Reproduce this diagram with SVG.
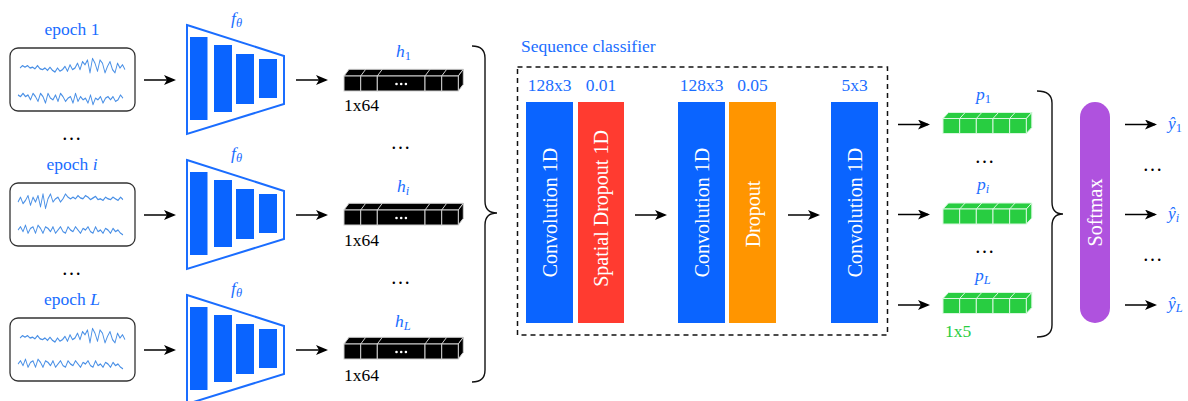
<svg xmlns="http://www.w3.org/2000/svg" width="1188" height="401" viewBox="0 0 1188 401">
<style>
.t{font-family:"Liberation Serif","Times New Roman",serif;font-size:17.5px}
.blue{fill:#1a6dff}
.blk{fill:#000}
.grn{fill:#28cd41}
.wt{fill:#fff;font-family:"Liberation Serif","Times New Roman",serif;font-size:20px}
.it{font-style:italic}
.dots{font-family:"Liberation Serif","Times New Roman",serif;font-size:20px;letter-spacing:1px}
.sig{fill:none;stroke:#4a90e6;stroke-width:0.9;stroke-linejoin:round;vector-effect:non-scaling-stroke}
.ebox{fill:#fff;stroke:#333;stroke-width:1.3}
.enc{fill:none;stroke:#1a6dff;stroke-width:2}
.bar{fill:#0a64ff}
.arr{stroke:#000;stroke-width:1.5;fill:none;marker-end:url(#ah)}
.brace{fill:none;stroke:#111;stroke-width:1.4}
.hc{fill:#000;stroke:#cfcfcf;stroke-width:1}
.pc{fill:#28cd41;stroke:#d8f7de;stroke-width:1}
</style>
<defs>
<marker id="ah" viewBox="0 0 12 10" refX="10" refY="5" markerWidth="12" markerHeight="10" markerUnits="userSpaceOnUse" orient="auto"><path d="M0,0 L12,5 L0,10 L3,5 z" fill="#000"/></marker>
<path id="T1" d="M0,0 l2.5,-1.5 2.5,1 2.5,-1 2.5,1.5 2.5,-0.5 2.5,1 2.5,-2 2.5,2 2.5,0.5 2.5,-1 2.5,1.5 2.5,-2 2.5,2 2.5,1 2.5,-2.5 2.5,2 2.5,-1 2.5,-2 2.5,3 2.5,-4 2.5,3 2.5,-1 2.5,-3 2.5,4 2.5,-5 2.5,2 2.5,-3 2.5,8 2.5,-9 2.5,3 2.5,5 2.5,-7 2.5,2 2.5,6 2.5,-4 2.5,-3 2.5,5 2.5,2 2.5,-6 2.5,3 2.5,-2 2.5,3"/>
<path id="T2" d="M0,0 l2.5,-2 2.5,3 2.5,-4 2.5,5 2.5,-3 2.5,-1 2.5,4 2.5,-5 2.5,2 2.5,3 2.5,-4 2.5,1 2.5,2 2.5,-3 2.5,4 2.5,-2 2.5,-2 2.5,3 2.5,1 2.5,-4 2.5,2 2.5,1 2.5,-3 2.5,2 2.5,2 2.5,-3 2.5,1 2.5,-2 2.5,3 2.5,1 2.5,-4 2.5,3 2.5,-1 2.5,2 2.5,-3 2.5,1 2.5,2 2.5,-3 2.5,2 2.5,-1 2.5,2 2.5,1"/>
<path id="T3" d="M0,0 l2.5,-3 2.5,4 2.5,-2 2.5,-3 2.5,6 2.5,-5 2.5,3 2.5,-4 2.5,7 2.5,-8 2.5,9 2.5,-6 2.5,-3 2.5,5 2.5,-2 2.5,-1 2.5,3 2.5,-2 2.5,-3 2.5,2 2.5,1 2.5,-1 2.5,1 2.5,-2 2.5,1.5 2.5,0.5 2.5,-2 2.5,1 2.5,1.5 2.5,-1 2.5,-1 2.5,2 2.5,-0.5 2.5,1 2.5,-2 2.5,1 2.5,0.5 2.5,-1.5 2.5,1 2.5,1 2.5,-2 2.5,1.5"/>
<path id="T4" d="M0,0 l2.5,1 2.5,-2 2.5,2 2.5,-1 2.5,3 2.5,-4 2.5,2 2.5,3 2.5,-5 2.5,2 2.5,4 2.5,-6 2.5,3 2.5,1 2.5,-3 2.5,4 2.5,-5 2.5,2 2.5,3 2.5,-2 2.5,-1 2.5,4 2.5,-6 2.5,5 2.5,-3 2.5,2 2.5,-1 2.5,3 2.5,-5 2.5,6 2.5,-4 2.5,1 2.5,-2 2.5,4 2.5,-3 2.5,-1 2.5,2 2.5,-2 2.5,3 2.5,-1 2.5,-3 2.5,2"/>
<g id="encShape">
<polygon class="enc" points="187,25 284,56 284,104 187,134"/>
<rect class="bar" x="190" y="37" width="17.5" height="83"/>
<rect class="bar" x="214" y="45" width="18" height="67"/>
<rect class="bar" x="236" y="54" width="18" height="50"/>
<rect class="bar" x="259" y="59" width="18" height="39"/>
<text class="t blue it" x="231" y="24">f<tspan font-size="12.5" dy="3">θ</tspan></text>
</g>
<g id="hShape">
<polygon class="hc" points="0,0 5,-6.7 119.3,-6.7 114.3,0"/>
<polygon class="hc" points="114.3,0 119.3,-6.7 119.3,8.3 114.3,15"/>
<rect class="hc" x="0" y="0" width="16.7" height="15"/>
<rect class="hc" x="16.7" y="0" width="16.6" height="15"/>
<rect class="hc" x="33.3" y="0" width="47.7" height="15"/>
<rect class="hc" x="81" y="0" width="16.7" height="15"/>
<rect class="hc" x="97.7" y="0" width="16.6" height="15"/>
<path d="M16.7,0 l5,-6.7 M33.3,0 l5,-6.7 M81,0 l5,-6.7 M97.7,0 l5,-6.7" stroke="#cfcfcf" stroke-width="1"/>
<g fill="#fff"><circle cx="52.5" cy="8" r="1.3"/><circle cx="57.2" cy="8" r="1.3"/><circle cx="61.9" cy="8" r="1.3"/></g>
</g>
<g id="pShape">
<polygon class="pc" points="0,0 5.5,-6 88.8,-6 83.3,0"/>
<polygon class="pc" points="83.3,0 88.8,-6 88.8,9 83.3,15"/>
<rect class="pc" x="0" y="0" width="16.66" height="15"/>
<rect class="pc" x="16.66" y="0" width="16.66" height="15"/>
<rect class="pc" x="33.32" y="0" width="16.66" height="15"/>
<rect class="pc" x="49.98" y="0" width="16.66" height="15"/>
<rect class="pc" x="66.64" y="0" width="16.66" height="15"/>
<path d="M16.66,0 l5.5,-6 M33.32,0 l5.5,-6 M49.98,0 l5.5,-6 M66.64,0 l5.5,-6" stroke="#d8f7de" stroke-width="1"/>
</g>
</defs>
<rect width="1188" height="401" fill="#fff"/>

<!-- epochs -->
<g id="epoch1">
<text class="t blue" x="72" y="35" text-anchor="middle">epoch 1</text>
<rect class="ebox" x="10" y="48" width="125" height="63" rx="8"/>
<use href="#T1" class="sig" transform="translate(20,68) scale(1,1.6)"/>
<use href="#T4" class="sig" transform="translate(18,95) scale(1,1.6)"/>
</g>
<g id="epochI">
<text class="t blue" x="72" y="170" text-anchor="middle">epoch <tspan class="it">i</tspan></text>
<rect class="ebox" x="10" y="183" width="125" height="63" rx="8"/>
<use href="#T3" class="sig" transform="translate(18,202) scale(1,1.6)"/>
<use href="#T2" class="sig" transform="translate(18,230) scale(1,1.6)"/>
</g>
<g id="epochL">
<text class="t blue" x="72" y="305" text-anchor="middle">epoch <tspan class="it">L</tspan></text>
<rect class="ebox" x="10" y="318" width="125" height="63" rx="8"/>
<use href="#T1" class="sig" transform="translate(20,338) scale(1,1.6)"/>
<use href="#T2" class="sig" transform="translate(18,364) scale(1,1.6)"/>
</g>
<g id="epochDots">
<text class="dots blk" x="72" y="140" text-anchor="middle">…</text>
<text class="dots blk" x="72" y="275" text-anchor="middle">…</text>
</g>

<!-- encoders -->
<g id="enc1"><use href="#encShape"/></g>
<g id="encI"><use href="#encShape" y="135"/></g>
<g id="encL"><use href="#encShape" y="270"/></g>

<!-- embeddings -->
<g id="h1">
<text class="t blue" x="396" y="57"><tspan class="it">h</tspan><tspan font-size="12.5" dy="3">1</tspan></text>
<use href="#hShape" x="344" y="76"/>
<text class="t blk" x="344" y="111">1x64</text>
</g>
<g id="hI">
<text class="t blue" x="397" y="192"><tspan class="it">h</tspan><tspan class="it" font-size="12.5" dy="3">i</tspan></text>
<use href="#hShape" x="344" y="210"/>
<text class="t blk" x="344" y="246">1x64</text>
</g>
<g id="hL">
<text class="t blue" x="395" y="327"><tspan class="it">h</tspan><tspan class="it" font-size="12.5" dy="3">L</tspan></text>
<use href="#hShape" x="344" y="344"/>
<text class="t blk" x="344" y="381">1x64</text>
</g>
<g id="hDots">
<text class="dots blk" x="401" y="149" text-anchor="middle">…</text>
<text class="dots blk" x="401" y="284" text-anchor="middle">…</text>
</g>

<!-- sequence classifier -->
<g id="seqClassifier">
<text class="t blue" x="521" y="52">Sequence classifier</text>
<rect x="517.5" y="67" width="370" height="268" fill="none" stroke="#111" stroke-width="1.5" stroke-dasharray="5,4"/>
</g>
<g id="conv1">
<text class="t blue" x="549.5" y="91" text-anchor="middle">128x3</text>
<rect x="526" y="102" width="47" height="221" fill="#0a64ff"/>
<text class="wt" transform="translate(556.5,212.5) rotate(-90)" text-anchor="middle">Convolution 1D</text>
</g>
<g id="spDrop">
<text class="t blue" x="601" y="91" text-anchor="middle">0.01</text>
<rect x="578" y="102" width="46" height="221" fill="#ff3b30"/>
<text class="wt" transform="translate(608,208.5) rotate(-90)" text-anchor="middle">Spatial Dropout 1D</text>
</g>
<g id="conv2">
<text class="t blue" x="701.5" y="91" text-anchor="middle">128x3</text>
<rect x="678" y="102" width="47" height="221" fill="#0a64ff"/>
<text class="wt" transform="translate(708.5,212.5) rotate(-90)" text-anchor="middle">Convolution 1D</text>
</g>
<g id="dropout">
<text class="t blue" x="752.5" y="91" text-anchor="middle">0.05</text>
<rect x="729" y="102" width="47" height="221" fill="#ff9500"/>
<text class="wt" transform="translate(759.5,214) rotate(-90)" text-anchor="middle">Dropout</text>
</g>
<g id="conv3">
<text class="t blue" x="854.5" y="91" text-anchor="middle">5x3</text>
<rect x="831" y="102" width="47" height="221" fill="#0a64ff"/>
<text class="wt" transform="translate(861.5,212.5) rotate(-90)" text-anchor="middle">Convolution 1D</text>
</g>

<!-- predictions -->
<g id="p1">
<text class="t blue" x="976" y="100"><tspan class="it">p</tspan><tspan font-size="12.5" dy="3">1</tspan></text>
<use href="#pShape" x="943" y="118.5"/>
</g>
<g id="pI">
<text class="t blue" x="977" y="190"><tspan class="it">p</tspan><tspan class="it" font-size="12.5" dy="3">i</tspan></text>
<use href="#pShape" x="943" y="209"/>
</g>
<g id="pL">
<text class="t blue" x="975" y="281"><tspan class="it">p</tspan><tspan class="it" font-size="12.5" dy="3">L</tspan></text>
<use href="#pShape" x="943" y="298.5"/>
<text class="t grn" x="945" y="337">1x5</text>
</g>
<g id="pDots">
<text class="dots blk" x="985" y="163" text-anchor="middle">…</text>
<text class="dots blk" x="985" y="253" text-anchor="middle">…</text>
</g>

<g id="softmax">
<rect x="1080" y="102" width="30" height="221" rx="15" fill="#af52de"/>
<text class="wt" transform="translate(1101.5,212.5) rotate(-90)" text-anchor="middle">Softmax</text>
</g>

<g id="outputs">
<text class="t blue" x="1168" y="129"><tspan class="it">ŷ</tspan><tspan font-size="12.5" dy="3">1</tspan></text>
<text class="t blue" x="1168" y="219"><tspan class="it">ŷ</tspan><tspan class="it" font-size="12.5" dy="3">i</tspan></text>
<text class="t blue" x="1168" y="309"><tspan class="it">ŷ</tspan><tspan class="it" font-size="12.5" dy="3">L</tspan></text>
<text class="dots blk" x="1153" y="171" text-anchor="middle">…</text>
<text class="dots blk" x="1153" y="261" text-anchor="middle">…</text>
</g>

<!-- connectors -->
<g id="connectors">
<line class="arr" x1="144" y1="80" x2="174" y2="80"/>
<line class="arr" x1="144" y1="215" x2="174" y2="215"/>
<line class="arr" x1="144" y1="350" x2="174" y2="350"/>
<line class="arr" x1="296" y1="80" x2="326" y2="80"/>
<line class="arr" x1="296" y1="215" x2="326" y2="215"/>
<line class="arr" x1="296" y1="350" x2="326" y2="350"/>
<path class="brace" d="M472,46 Q485,46 485,58 L485,201 Q485,213 497,213 Q485,213 485,225 L485,370 Q485,382 472,382"/>
<line class="arr" x1="635" y1="215" x2="665" y2="215"/>
<line class="arr" x1="788" y1="215" x2="818" y2="215"/>
<line class="arr" x1="898" y1="124.5" x2="928" y2="124.5"/>
<line class="arr" x1="898" y1="214.5" x2="928" y2="214.5"/>
<line class="arr" x1="898" y1="305" x2="928" y2="305"/>
<path class="brace" d="M1037,91 Q1052,91 1052,103 L1052,202 Q1052,214 1063,214 Q1052,214 1052,226 L1052,325 Q1052,337 1037,337"/>
<line class="arr" x1="1125" y1="124.5" x2="1155" y2="124.5"/>
<line class="arr" x1="1125" y1="214.5" x2="1155" y2="214.5"/>
<line class="arr" x1="1125" y1="305" x2="1155" y2="305"/>
</g>
</svg>
